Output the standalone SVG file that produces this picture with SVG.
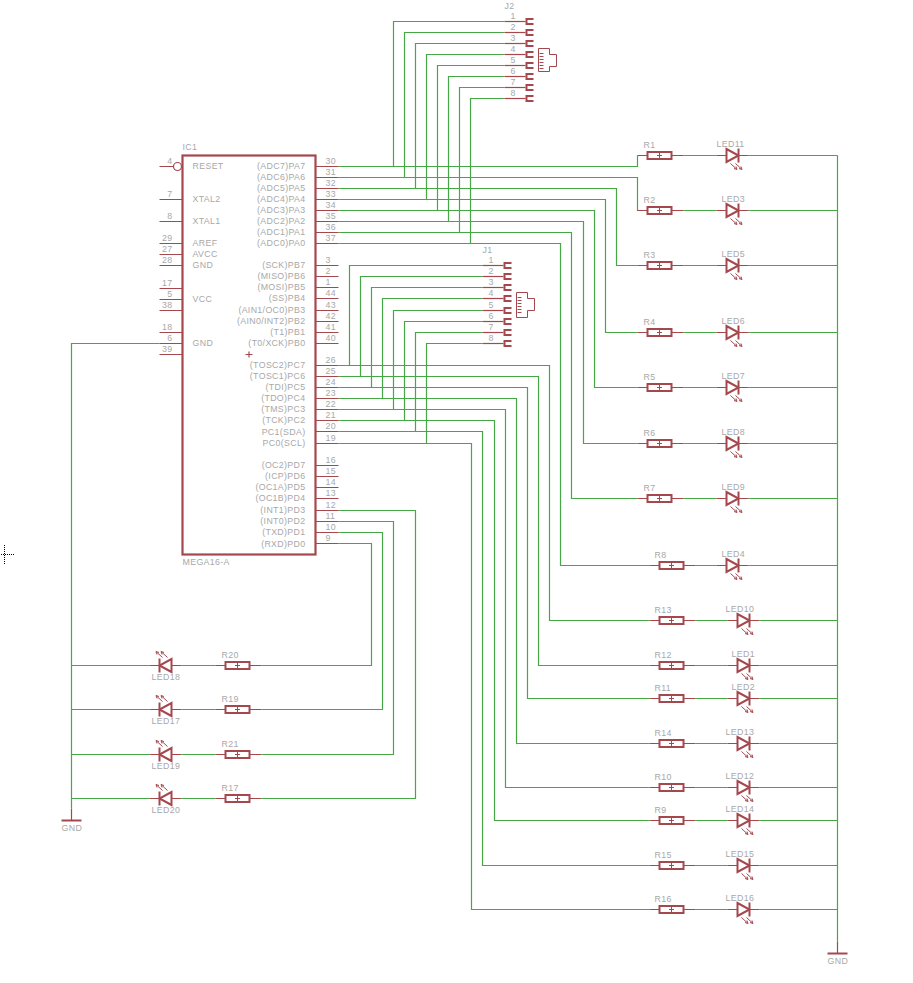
<svg xmlns="http://www.w3.org/2000/svg" width="913" height="983" viewBox="0 0 913 983">
<style>
text{font-family:"Liberation Sans",Arial,sans-serif;font-size:8.8px;letter-spacing:.35px;fill:#a8a8a8;transform:translateY(-1px)}
.e{text-anchor:end}
.w{fill:none;stroke:#45a845;stroke-width:1.2}
.p{fill:none;stroke:#a5484e;stroke-width:1.2}
.b{fill:none;stroke:#a5484e;stroke-width:2}
.f{fill:#fff;stroke:#a5484e;stroke-width:2}
.t{fill:none;stroke:#a5484e;stroke-width:1}
.c{fill:none;stroke:#000;stroke-width:1;stroke-dasharray:1 1}
</style>
<defs>
<g id="res"><path class="p" d="M-10 0H0M24 0H36"/><rect class="f" x="0" y="-3.5" width="24" height="7"/><path class="t" d="M12-2.500V2.500M9.500 0H14.500"/></g>
<g id="led"><path class="p" d="M-10 0H0M12 0H22"/><path class="f" d="M0-6.500L12 0L0 6.500Z"/><path class="b" d="M12-7V7"/><path class="t" d="M4 8L10 13.500M9 8L15 13.500"/><path class="t" stroke-width="1.500" d="M7.500 13L10.500 14L9.500 11M12.500 13L15.500 14L14.500 11"/></g>
<g id="pad"><path class="p" d="M-21 0H0"/><path class="b" d="M8-2.500H1V2.500H8"/></g>
<g id="gnd"><path class="b" d="M-10 0H10"/><path class="p" d="M0-12V0"/></g>
</defs>
<g transform="translate(.5 .5)">
<path class="c" d="M.5 554H14M4 544.500V564"/>
<g id="connectors">
<path class="w" d="M338 166H637V155M338 177H637V210H647"/>
<path class="w" d="M393 166V21H504M404 177V32H504M415 188V43H504M426 199V54H504M437 210V65H504M448 221V76H504M459 232V87H504M470 243V98H504"/>
<path class="w" d="M349 365V265H482M360 376V276H482M371 387V287H482M382 398V298H482M393 409V310H482M404 420V321H482M415 431V332H482M426 443V343H482"/>
<path class="w" d="M338 188H616V265H637M338 199H605V332H637M338 210H594V387H637M338 221H583V443H637M338 232H571V498H637M338 243H560V565H649"/>
<path class="w" d="M338 365H549V620H649M338 376H538V665H649M338 387H527V698H649M338 398H516V743H649M338 409H505V787H649M338 420H494V820H649M338 431H482V865H649M338 443H471V909H649"/>
<path class="w" d="M338 510H415V798H261M338 521H393V754H261M338 532H382V709H261M338 543H371V665H261"/>
<path class="w" d="M683 155H716M748 155H837M683 210H716M748 210H837M683 265H716M748 265H837M683 332H716M748 332H837M683 387H716M748 387H837M683 443H716M748 443H837M683 498H716M748 498H837M695 565H716M748 565H837"/>
<path class="w" d="M695 620H727M759 620H837M695 665H727M759 665H837M695 698H727M759 698H837M695 743H727M759 743H837M695 787H727M759 787H837M695 820H727M759 820H837M695 865H727M759 865H837M695 909H727M759 909H837"/>
<path class="w" d="M837 155V941M159 343H71V808M71 665H149M71 709H149M71 754H149M71 798H149M181 665H215M181 709H215M181 754H215M181 798H215"/>
</g>
<g id="IC1">
<rect x="182" y="155" width="133" height="399" fill="none" stroke="#a5484e" stroke-width="2.200"/>
<path class="p" d="M159 166H173M159 199H182M159 221H182M159 243H182M159 254H182M159 265H182M159 288H182M159 299H182M159 310H182M159 332H182M159 343H182M159 354H182"/>
<circle cx="177" cy="166" r="4" fill="#fff" stroke="#a5484e" stroke-width="1.200"/>
<path class="p" d="M315 166H338M315 177H338M315 188H338M315 199H338M315 210H338M315 221H338M315 232H338M315 243H338M315 265H338M315 276H338M315 287H338M315 298H338M315 310H338M315 321H338M315 332H338M315 343H338M315 365H338M315 376H338M315 387H338M315 398H338M315 409H338M315 420H338M315 431H338M315 443H338M315 465H338M315 476H338M315 487H338M315 498H338M315 510H338M315 521H338M315 532H338M315 543H338"/>
<path class="p" d="M245 354H252M248.500 351V357"/>
<text x="182" y="150">IC1</text>
<text x="182" y="565">MEGA16-A</text>
<text x="192" y="169">RESET</text><text x="192" y="202">XTAL2</text><text x="192" y="224">XTAL1</text><text x="192" y="246">AREF</text><text x="192" y="257">AVCC</text><text x="192" y="268">GND</text><text x="192" y="302">VCC</text><text x="192" y="346">GND</text>
<g>
<text class="e" x="172" y="164">4</text><text class="e" x="172" y="197">7</text><text class="e" x="172" y="219">8</text><text class="e" x="172" y="241">29</text><text class="e" x="172" y="252">27</text><text class="e" x="172" y="263">28</text><text class="e" x="172" y="286">17</text><text class="e" x="172" y="297">5</text><text class="e" x="172" y="308">38</text><text class="e" x="172" y="330">18</text><text class="e" x="172" y="341">6</text><text class="e" x="172" y="352">39</text>
<text class="e" x="305" y="169">(ADC7)PA7</text><text class="e" x="305" y="180">(ADC6)PA6</text><text class="e" x="305" y="191">(ADC5)PA5</text><text class="e" x="305" y="202">(ADC4)PA4</text><text class="e" x="305" y="213">(ADC3)PA3</text><text class="e" x="305" y="224">(ADC2)PA2</text><text class="e" x="305" y="235">(ADC1)PA1</text><text class="e" x="305" y="246">(ADC0)PA0</text>
<text class="e" x="305" y="268">(SCK)PB7</text><text class="e" x="305" y="279">(MISO)PB6</text><text class="e" x="305" y="290">(MOSI)PB5</text><text class="e" x="305" y="301">(SS)PB4</text><text class="e" x="305" y="313">(AIN1/OC0)PB3</text><text class="e" x="305" y="324">(AIN0/INT2)PB2</text><text class="e" x="305" y="335">(T1)PB1</text><text class="e" x="305" y="346">(T0/XCK)PB0</text>
<text class="e" x="305" y="368">(TOSC2)PC7</text><text class="e" x="305" y="379">(TOSC1)PC6</text><text class="e" x="305" y="390">(TDI)PC5</text><text class="e" x="305" y="401">(TDO)PC4</text><text class="e" x="305" y="412">(TMS)PC3</text><text class="e" x="305" y="423">(TCK)PC2</text><text class="e" x="305" y="435">PC1(SDA)</text><text class="e" x="305" y="446">PC0(SCL)</text>
<text class="e" x="305" y="468">(OC2)PD7</text><text class="e" x="305" y="479">(ICP)PD6</text><text class="e" x="305" y="490">(OC1A)PD5</text><text class="e" x="305" y="501">(OC1B)PD4</text><text class="e" x="305" y="513">(INT1)PD3</text><text class="e" x="305" y="524">(INT0)PD2</text><text class="e" x="305" y="535">(TXD)PD1</text><text class="e" x="305" y="547">(RXD)PD0</text>
</g>
<text x="325" y="164">30</text><text x="325" y="175">31</text><text x="325" y="186">32</text><text x="325" y="197">33</text><text x="325" y="208">34</text><text x="325" y="219">35</text><text x="325" y="230">36</text><text x="325" y="241">37</text>
<text x="325" y="263">3</text><text x="325" y="274">2</text><text x="325" y="285">1</text><text x="325" y="296">44</text><text x="325" y="308">43</text><text x="325" y="319">42</text><text x="325" y="330">41</text><text x="325" y="341">40</text>
<text x="325" y="363">26</text><text x="325" y="374">25</text><text x="325" y="385">24</text><text x="325" y="396">23</text><text x="325" y="407">22</text><text x="325" y="418">21</text><text x="325" y="429">20</text><text x="325" y="441">19</text>
<text x="325" y="463">16</text><text x="325" y="474">15</text><text x="325" y="485">14</text><text x="325" y="496">13</text><text x="325" y="508">12</text><text x="325" y="519">11</text><text x="325" y="530">10</text><text x="325" y="541">9</text>
</g>
<g id="J2">
<use href="#pad" x="525" y="21"/><use href="#pad" x="525" y="32"/><use href="#pad" x="525" y="43"/><use href="#pad" x="525" y="54"/><use href="#pad" x="525" y="65"/><use href="#pad" x="525" y="76"/><use href="#pad" x="525" y="87"/><use href="#pad" x="525" y="98"/>
<path class="t" d="M538 48H549V54H556V66H549V71H538ZM539 53H543M539 56H543M539 59H543M539 62H543M539 65H543M539 68H543"/>
<text x="504" y="9">J2</text>
<text x="510" y="19">1</text><text x="510" y="30">2</text><text x="510" y="41">3</text><text x="510" y="52">4</text><text x="510" y="63">5</text><text x="510" y="74">6</text><text x="510" y="85">7</text><text x="510" y="96">8</text>
</g>
<g id="J1">
<use href="#pad" x="503" y="265"/><use href="#pad" x="503" y="276"/><use href="#pad" x="503" y="287"/><use href="#pad" x="503" y="298"/><use href="#pad" x="503" y="310"/><use href="#pad" x="503" y="321"/><use href="#pad" x="503" y="332"/><use href="#pad" x="503" y="343"/>
<path class="t" d="M516 292H527V298H534V310H527V317H516ZM517 297H521M517 300H521M517 303H521M517 306H521M517 309H521M517 312H521"/>
<text x="482" y="253">J1</text>
<text x="488" y="263">1</text><text x="488" y="274">2</text><text x="488" y="285">3</text><text x="488" y="296">4</text><text x="488" y="308">5</text><text x="488" y="319">6</text><text x="488" y="330">7</text><text x="488" y="341">8</text>
</g>
<g id="R1"><use href="#res" x="647" y="155"/><text x="643" y="148">R1</text></g>
<g id="LED11"><use href="#led" x="726" y="155"/><text x="716" y="147">LED11</text></g>
<g id="R2"><use href="#res" x="647" y="210"/><text x="643" y="203">R2</text></g>
<g id="LED3"><use href="#led" x="726" y="210"/><text x="721" y="202">LED3</text></g>
<g id="R3"><use href="#res" x="647" y="265"/><text x="643" y="258">R3</text></g>
<g id="LED5"><use href="#led" x="726" y="265"/><text x="721" y="257">LED5</text></g>
<g id="R4"><use href="#res" x="647" y="332"/><text x="643" y="325">R4</text></g>
<g id="LED6"><use href="#led" x="726" y="332"/><text x="721" y="324">LED6</text></g>
<g id="R5"><use href="#res" x="647" y="387"/><text x="643" y="380">R5</text></g>
<g id="LED7"><use href="#led" x="726" y="387"/><text x="721" y="379">LED7</text></g>
<g id="R6"><use href="#res" x="647" y="443"/><text x="643" y="436">R6</text></g>
<g id="LED8"><use href="#led" x="726" y="443"/><text x="721" y="435">LED8</text></g>
<g id="R7"><use href="#res" x="647" y="498"/><text x="643" y="491">R7</text></g>
<g id="LED9"><use href="#led" x="726" y="498"/><text x="721" y="490">LED9</text></g>
<g id="R8"><use href="#res" x="659" y="565"/><text x="654" y="558">R8</text></g>
<g id="LED4"><use href="#led" x="726" y="565"/><text x="721" y="557">LED4</text></g>
<g id="R13"><use href="#res" x="659" y="620"/><text x="654" y="613">R13</text></g>
<g id="LED10"><use href="#led" x="737" y="620"/><text x="725" y="612">LED10</text></g>
<g id="R12"><use href="#res" x="659" y="665"/><text x="654" y="658">R12</text></g>
<g id="LED1"><use href="#led" x="737" y="665"/><text x="731" y="657">LED1</text></g>
<g id="R11"><use href="#res" x="659" y="698"/><text x="654" y="691">R11</text></g>
<g id="LED2"><use href="#led" x="737" y="698"/><text x="731" y="690">LED2</text></g>
<g id="R14"><use href="#res" x="659" y="743"/><text x="654" y="736">R14</text></g>
<g id="LED13"><use href="#led" x="737" y="743"/><text x="725" y="735">LED13</text></g>
<g id="R10"><use href="#res" x="659" y="787"/><text x="654" y="780">R10</text></g>
<g id="LED12"><use href="#led" x="737" y="787"/><text x="725" y="779">LED12</text></g>
<g id="R9"><use href="#res" x="659" y="820"/><text x="654" y="813">R9</text></g>
<g id="LED14"><use href="#led" x="737" y="820"/><text x="725" y="812">LED14</text></g>
<g id="R15"><use href="#res" x="659" y="865"/><text x="654" y="858">R15</text></g>
<g id="LED15"><use href="#led" x="737" y="865"/><text x="725" y="857">LED15</text></g>
<g id="R16"><use href="#res" x="659" y="909"/><text x="654" y="902">R16</text></g>
<g id="LED16"><use href="#led" x="737" y="909"/><text x="725" y="901">LED16</text></g>
<g id="R20"><use href="#res" x="225" y="665"/><text x="221" y="658">R20</text></g>
<g id="LED18"><use href="#led" transform="translate(171 665) rotate(180)"/><text x="151" y="680">LED18</text></g>
<g id="R19"><use href="#res" x="225" y="709"/><text x="221" y="702">R19</text></g>
<g id="LED17"><use href="#led" transform="translate(171 709) rotate(180)"/><text x="151" y="724">LED17</text></g>
<g id="R21"><use href="#res" x="225" y="754"/><text x="221" y="747">R21</text></g>
<g id="LED19"><use href="#led" transform="translate(171 754) rotate(180)"/><text x="151" y="769">LED19</text></g>
<g id="R17"><use href="#res" x="225" y="798"/><text x="221" y="791">R17</text></g>
<g id="LED20"><use href="#led" transform="translate(171 798) rotate(180)"/><text x="151" y="813">LED20</text></g>
<g id="GND1"><use href="#gnd" x="71" y="820"/><text x="61" y="831">GND</text></g>
<g id="GND2"><use href="#gnd" x="837" y="953"/><text x="827" y="964">GND</text></g>
</g>
</svg>
